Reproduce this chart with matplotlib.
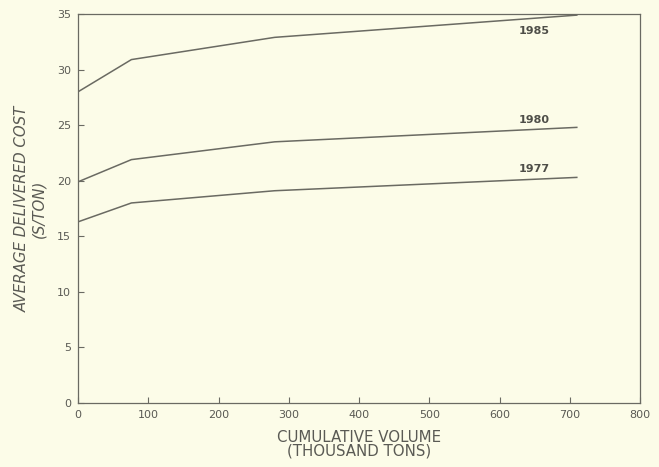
#!/usr/bin/env python3
import matplotlib as mpl
mpl.use('Agg')
import matplotlib.pyplot as plt

# cumulative volume (thousand tons) at the break points
volume = [0, 76, 280, 710]

cost_1985 = [28.0, 30.9, 32.9, 34.9]
cost_1980 = [19.9, 21.9, 23.5, 24.8]
cost_1977 = [16.3, 18.0, 19.1, 20.3]

series = [("1985", cost_1985, 33.5), ("1980", cost_1980, 25.5), ("1977", cost_1977, 21.1)]

bg = '#fcfce8'
ink = '#6a6a62'
txt = '#5a5a54'

def main():
    plt.rcParams['font.family'] = ['DejaVu Sans']
    fig = plt.figure(figsize=(6.59, 4.67), dpi=100, facecolor=bg)
    ax = fig.add_axes([0.1184, 0.137, 0.8528, 0.833])
    ax.set_facecolor(bg)

    for name, vals, ylab in series:
        ax.plot(volume, vals, color=ink, lw=1.1)
        ax.text(649, ylab, name, color='#4e4e48', fontsize=8, fontweight='bold',
                ha='center', va='center')

    ax.set_xlim(0, 800)
    ax.set_ylim(0, 35)
    ax.set_xticks(range(0, 801, 100))
    ax.set_yticks(range(0, 36, 5))
    ax.tick_params(direction='in', length=4, width=0.8, colors=ink,
                   labelcolor=txt, labelsize=8, pad=5)
    for s in ax.spines.values():
        s.set_color(ink)
        s.set_linewidth(0.9)

    ax.set_xlabel("CUMULATIVE VOLUME\n(THOUSAND TONS)", color=txt, fontsize=10.8,
                  labelpad=7, linespacing=0.9)
    ax.set_ylabel("AVERAGE DELIVERED COST\n(S/TON)", color=txt, fontsize=10.8,
                  style='italic', labelpad=8, linespacing=1.1)

    fig.savefig('out.png', dpi=100, facecolor=bg)

if __name__ == '__main__':
    main()
